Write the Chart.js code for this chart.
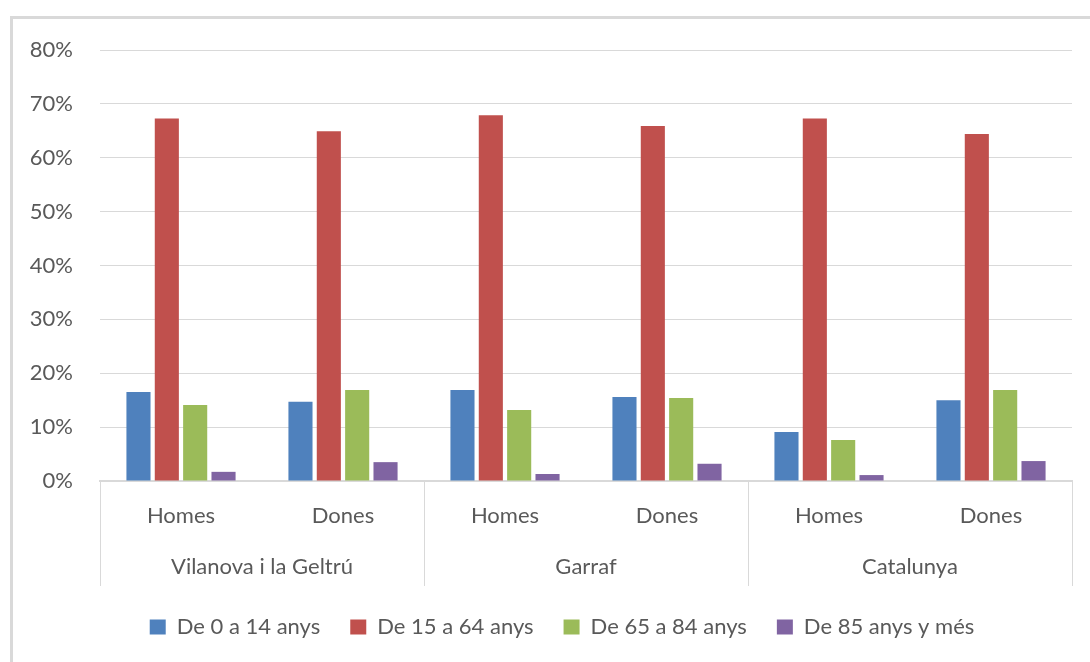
<!DOCTYPE html>
<html>
<head>
<meta charset="utf-8">
<title>Població per grans grups d'edat</title>
<script src="https://cdn.jsdelivr.net/npm/chart.js@4.4.1/dist/chart.umd.min.js"></script>
<style>
  html, body { margin: 0; padding: 0; background: #fff; overflow: hidden; width: 1090px; height: 662px; }
  /* light frame round the chart, open on the right and bottom */
  #frame {
    position: absolute; left: 10px; top: 16px; width: 1200px; height: 800px;
    border-left: 3px solid #d9d9d9; border-top: 3px solid #d9d9d9;
  }
  #wrap { position: absolute; left: 0; top: 0; width: 1110px; height: 662px; }
</style>
</head>
<body>
<div id="frame"></div>
<div id="wrap"><canvas id="chart"></canvas></div>
<script>
// Categories: sex inside each territory
const sexes = ['Homes', 'Dones', 'Homes', 'Dones', 'Homes', 'Dones'];
const regions = ['Vilanova i la Geltrú', 'Garraf', 'Catalunya'];

// Share of population by age group (%)
const ageLabels = ['De 0 a 14 anys', 'De 15 a 64 anys', 'De 65 a 84 anys', 'De 85 anys y més'];
const age0to14 = [16.5, 14.7, 16.9, 15.6, 9.1, 15.0];
const age15to64 = [67.3, 64.9, 67.9, 65.9, 67.3, 64.4];
const age65to84 = [14.1, 16.9, 13.2, 15.4, 7.6, 16.9];
const age85plus = [1.7, 3.5, 1.3, 3.2, 1.1, 3.7];

const yMin = 0;
const yMax = 80;
const yStep = 10;

const colors = ['#4f81bd', '#c0504d', '#9bbb59', '#8064a2'];
const textColor = '#595959';
const gridColor = '#d9d9d9';
const font = { family: 'Lato, "Liberation Sans", sans-serif', size: 22 };

// Vertical separators between territories, running through both label rows
const regionSeparators = {
  id: 'regionSeparators',
  afterDraw(chart) {
    const x = chart.scales.x;
    const x2 = chart.scales.x2;
    const ctx = chart.ctx;
    ctx.save();
    ctx.strokeStyle = gridColor;
    ctx.lineWidth = 1;
    for (let i = 0; i <= sexes.length; i += 2) {
      const px = Math.round(x.getPixelForValue(i - 0.5)) + 0.5;
      ctx.beginPath();
      ctx.moveTo(px, x.top);
      ctx.lineTo(px, x2.bottom);
      ctx.stroke();
    }
    ctx.restore();
  }
};

const series = [age0to14, age15to64, age65to84, age85plus];

new Chart(document.getElementById('chart'), {
  type: 'bar',
  data: {
    labels: sexes,
    datasets: series.map((data, i) => ({
      label: ageLabels[i],
      data: data,
      backgroundColor: colors[i],
      borderWidth: 0,
      categoryPercentage: 0.7,
      barPercentage: 0.85
    }))
  },
  options: {
    responsive: true,
    maintainAspectRatio: false,
    animation: false,
    layout: { padding: { top: 50, left: 26, right: 12, bottom: 14 } },
    plugins: {
      tooltip: { enabled: false },
      legend: {
        position: 'bottom',
        labels: {
          color: textColor,
          font: font,
          boxWidth: 16,
          boxHeight: 15,
          padding: 30
        }
      }
    },
    scales: {
      x: {
        weight: 0,
        grid: { display: true, drawOnChartArea: false, drawTicks: false },
        border: { display: true, color: gridColor, width: 2 },
        ticks: { color: textColor, font: font, padding: 22, maxRotation: 0 },
        afterFit(scale) { scale.height = 52; }
      },
      x2: {
        type: 'category',
        labels: regions,
        position: 'bottom',
        weight: 1,
        offset: true,
        grid: { display: true, drawOnChartArea: false, drawTicks: false },
        border: { display: false },
        ticks: { color: textColor, font: font, padding: 21, maxRotation: 0 },
        afterFit(scale) { scale.height = 53; }
      },
      y: {
        min: yMin,
        max: yMax,
        border: { display: false },
        grid: { color: gridColor, drawTicks: false },
        ticks: {
          stepSize: yStep,
          color: textColor,
          font: font,
          padding: 27,
          callback: v => v + '%'
        },
        afterFit(scale) { scale.width = 74; }
      },
      // empty spacer on the right so the legend sits centred under the frame
      spacer: {
        type: 'linear',
        position: 'right',
        grid: { drawOnChartArea: false, drawTicks: false },
        border: { display: false },
        ticks: { display: false },
        afterFit(scale) { scale.width = 26; }
      }
    }
  },
  plugins: [regionSeparators]
});
</script>
</body>
</html>
